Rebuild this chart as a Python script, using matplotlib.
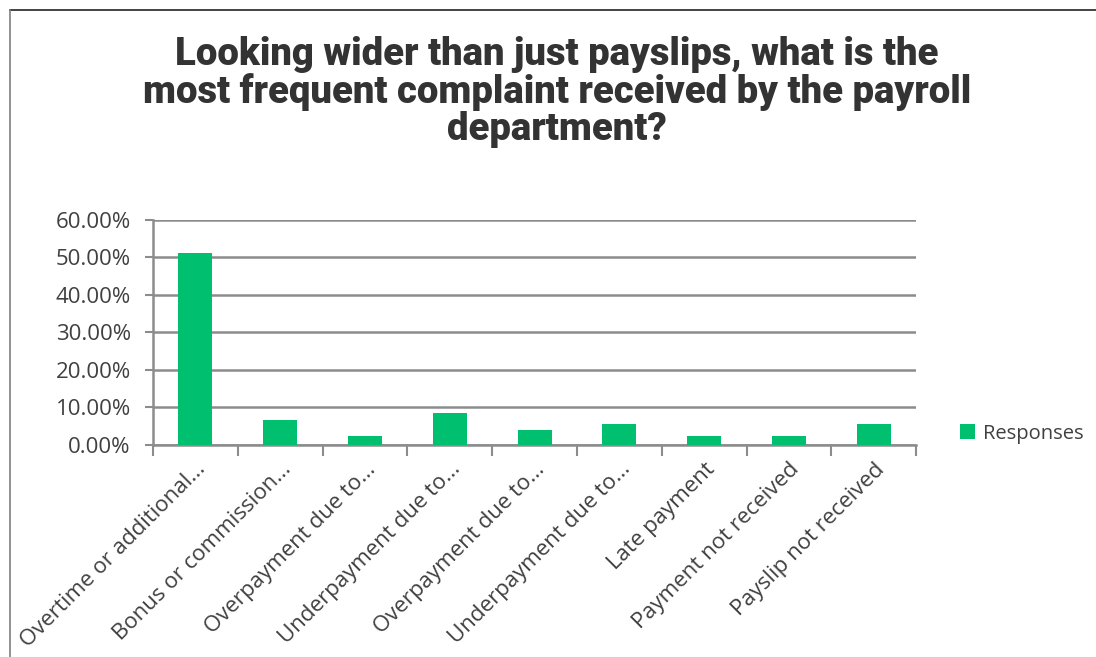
import matplotlib
matplotlib.use("Agg")
import matplotlib.pyplot as plt
import matplotlib.transforms as mtransforms
from matplotlib.lines import Line2D
from matplotlib.ticker import PercentFormatter

categories = [
    "Overtime or additional...",
    "Bonus or commission...",
    "Overpayment due to...",
    "Underpayment due to...",
    "Overpayment due to...",
    "Underpayment due to...",
    "Late payment",
    "Payment not received",
    "Payslip not received",
]
responses = [51.3, 6.7, 2.3, 8.4, 4.0, 5.7, 2.3, 2.3, 5.7]
y_ticks = [0, 10, 20, 30, 40, 50, 60]

green = "#00BF6F"
grid_gray = "#8C8C8C"
text_gray = "#404040"

fig = plt.figure(figsize=(10.96, 6.57), dpi=100)
ax = fig.add_axes([0.1396, 0.3227, 0.6964, 0.3425])

x = range(len(categories))
ax.bar(x, responses, width=0.4, color=green, label="Responses", zorder=3)

ax.set_xlim(-0.5, len(categories) - 0.5)
ax.set_ylim(0, 60)
ax.set_yticks(y_ticks)
ax.yaxis.set_major_formatter(PercentFormatter(decimals=2))
ax.grid(axis="y", color=grid_gray, linewidth=1.8, zorder=0)

# category ticks sit between the bars
ax.set_xticks([i - 0.5 for i in range(len(categories) + 1)], minor=False)
ax.set_xticklabels([])
ax.set_xticks(list(x), minor=True)
ax.set_xticklabels(categories, minor=True, rotation=45, ha="right",
                   rotation_mode="anchor", fontsize=16, color=text_gray,
                   family="Open Sans")
shift = mtransforms.ScaledTranslation(16 / 100, 0, fig.dpi_scale_trans)
for lbl in ax.get_xticklabels(minor=True):
    lbl.set_transform(lbl.get_transform() + shift)
ax.tick_params(axis="x", which="major", length=8, width=1.5, color=grid_gray,
               direction="out")
ax.tick_params(axis="x", which="minor", length=0, pad=10)
ax.tick_params(axis="y", length=6, width=1.5, color=grid_gray, pad=10)
for lbl in ax.get_yticklabels():
    lbl.set_fontsize(16)
    lbl.set_color(text_gray)
    lbl.set_family("Open Sans")

for side in ["top", "right"]:
    ax.spines[side].set_visible(False)
ax.spines["left"].set_color(grid_gray)
ax.spines["left"].set_linewidth(1.8)
ax.spines["bottom"].set_color(grid_gray)
ax.spines["bottom"].set_linewidth(1.8)

ax.legend(loc="center left", bbox_to_anchor=(1.033, 0.05), frameon=False,
          handlelength=0.75, handleheight=0.75, handletextpad=0.4,
          prop={"family": "Open Sans", "size": 14.5})
for t in ax.get_legend().get_texts():
    t.set_color(text_gray)

fig.text(0.508, 0.86,
         "Looking wider than just payslips, what is the\n"
         "most frequent complaint received by the payroll\n"
         "department?",
         ha="center", va="center", fontsize=27.5, fontweight="black",
         family="Roboto", color="#333333", linespacing=1.0)

# chart frame
fig.add_artist(Line2D([10 / 1096, 1], [1 - 10 / 657, 1 - 10 / 657],
                      color="#222222", linewidth=1.2))
fig.add_artist(Line2D([10 / 1096, 10 / 1096], [0, 1 - 10 / 657],
                      color="#7F7F7F", linewidth=1.2))

fig.savefig("out.png", dpi=100)
